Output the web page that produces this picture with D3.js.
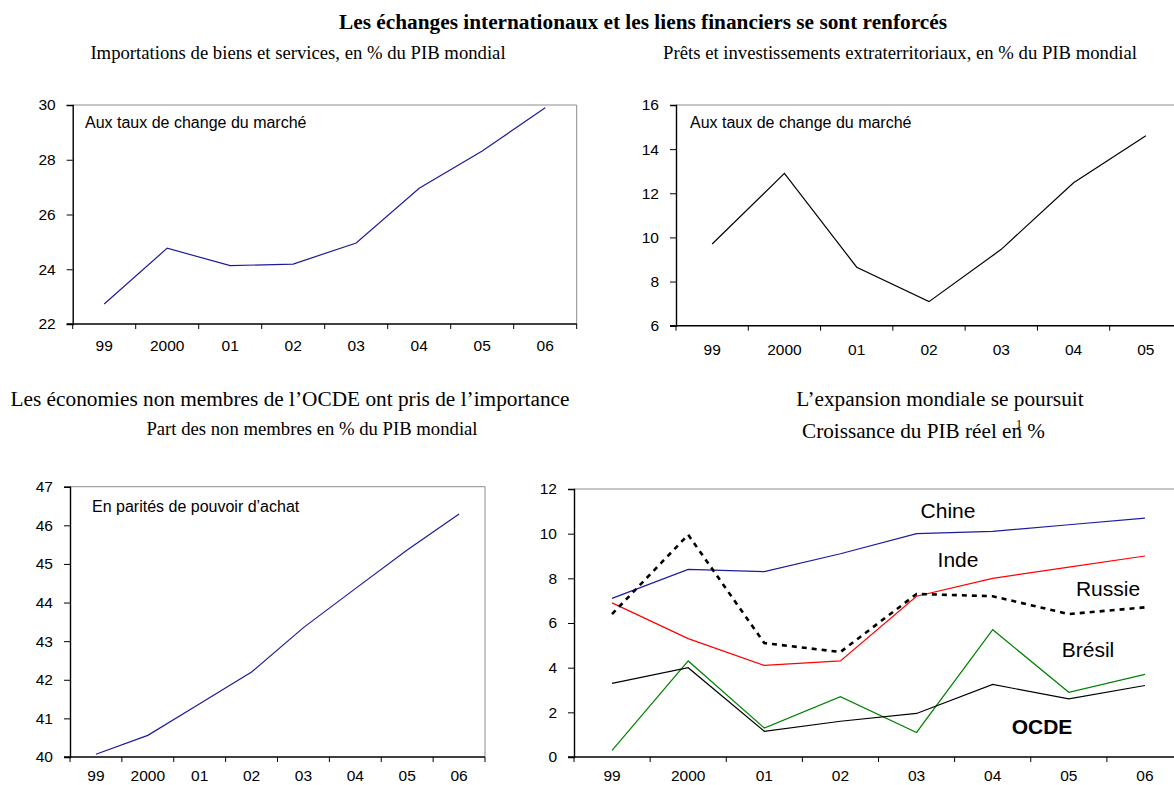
<!DOCTYPE html>
<html>
<head>
<meta charset="utf-8">
<script src="https://cdn.jsdelivr.net/npm/d3@7"></script>
<style>
  body { margin: 0; background: #fff; }
  .tick text { font-family: "Liberation Sans", Arial, sans-serif; fill: #000; }
  .serif { font-family: "Liberation Serif", "Times New Roman", serif; fill: #000; }
  .sans { font-family: "Liberation Sans", Arial, sans-serif; fill: #000; }
</style>
</head>
<body>
<script>
// data
const years = ["99", "2000", "01", "02", "03", "04", "05", "06"];
const years7 = ["99", "2000", "01", "02", "03", "04", "05"];
const imports = [22.73, 24.77, 24.13, 24.19, 24.96, 26.96, 28.32, 29.9];
const offshore = [9.70, 12.9, 8.65, 7.09, 9.46, 12.48, 14.61];
const nonOecdShare = [40.07, 40.56, 41.38, 42.2, 43.35, 44.36, 45.36, 46.29];
const chine = [7.1, 8.4, 8.3, 9.1, 10.0, 10.1, 10.4, 10.7];
const inde = [6.9, 5.3, 4.1, 4.3, 7.2, 8.0, 8.5, 9.0];
const russie = [6.4, 9.95, 5.1, 4.7, 7.3, 7.2, 6.4, 6.7];
const bresil = [0.3, 4.3, 1.3, 2.7, 1.1, 5.7, 2.9, 3.7];
const ocde = [3.3, 4.0, 1.15, 1.6, 1.95, 3.25, 2.6, 3.2];

const W = 1174, H = 785;
const svg = d3.select("body").append("svg")
    .attr("width", W).attr("height", H);

function panel(p) {
  const x = d3.scaleBand().domain(p.cats).range([p.left, p.right]).padding(0);
  const y = d3.scaleLinear().domain(p.yDomain).range([p.bottom, p.top]);
  const g = svg.append("g");

  // grey frame top + right
  g.append("path")
      .attr("d", `M${p.left},${p.top}H${p.right}V${p.bottom}`)
      .attr("fill", "none").attr("stroke", "#8c8c8c").attr("stroke-width", 1);

  // y axis
  const ya = g.append("g")
      .attr("transform", `translate(${p.left},0)`)
      .call(d3.axisLeft(y).tickValues(d3.range(p.yDomain[0], p.yDomain[1] + 0.001, p.yStep))
        .tickSize(6).tickPadding(11).tickFormat(d3.format("d")));
  ya.select(".domain").attr("stroke", "#000").attr("stroke-width", 1.4);
  ya.selectAll(".tick text").style("font-size", "15.5px");

  // x axis: labels at band centres, ticks at band edges
  const xa = g.append("g")
      .attr("transform", `translate(0,${p.bottom})`)
      .call(d3.axisBottom(x).tickSize(0).tickPadding(p.labelPad));
  xa.select(".domain").remove();
  xa.selectAll(".tick text").style("font-size", "15.5px");
  const edges = p.cats.map(c => x(c)).concat([p.right]);
  xa.selectAll("line.edge").data(edges).join("line")
      .attr("class", "edge")
      .attr("x1", d => d).attr("x2", d => d)
      .attr("y1", 0).attr("y2", 5)
      .attr("stroke", "#000");
  xa.append("line")
      .attr("x1", p.left - 6).attr("x2", p.right)
      .attr("stroke", "#000").attr("stroke-width", 1.4);

  const line = d3.line()
      .x((d, i) => x(p.cats[i]) + x.bandwidth() / 2)
      .y(d => y(d));

  p.series.forEach(s => {
    g.append("path")
        .datum(s.values)
        .attr("fill", "none")
        .attr("stroke", s.color)
        .attr("stroke-width", s.width || 1.2)
        .attr("stroke-dasharray", s.dash || null)
        .attr("d", line);
  });

  if (p.note) {
    g.append("text").attr("class", "sans")
        .attr("x", p.note.x).attr("y", p.note.y)
        .style("font-size", "16px")
        .text(p.note.text);
  }
  return { x, y, g };
}

// titles
function title(text, x, y, size, bold) {
  return svg.append("text").attr("class", "serif")
      .attr("x", x).attr("y", y)
      .attr("text-anchor", "middle")
      .style("font-size", size + "px")
      .style("font-weight", bold ? "bold" : "normal")
      .text(text);
}

title("Les échanges internationaux et les liens financiers se sont renforcés", 643, 29, 21.3, true);
title("Importations de biens et services, en % du PIB mondial", 298, 59, 18.7);
title("Prêts et investissements extraterritoriaux, en % du PIB mondial", 900, 59, 18.7);
title("Les économies non membres de l’OCDE ont pris de l’importance", 290, 406, 21.3);
title("Part des non membres en % du PIB mondial", 312, 435, 18.7);
title("L’expansion mondiale se poursuit", 940, 406, 21.3);
const sub = title("Croissance du PIB réel en", 0, 438, 21.2).attr("text-anchor", "start");
sub.append("tspan").attr("dx", -6).attr("dy", -10).style("font-size", "12px").text("1");
sub.append("tspan").attr("dy", 10).text(" %");
sub.attr("x", 802);

panel({
  cats: years, left: 72.7, right: 576.7, top: 105, bottom: 324,
  yDomain: [22, 30], yStep: 2, labelPad: 16,
  series: [{ values: imports, color: "#1c1c9a" }],
  note: { text: "Aux taux de change du marché", x: 85, y: 128 }
});

panel({
  cats: years7, left: 676, right: 1182, top: 105, bottom: 325.7,
  yDomain: [6, 16], yStep: 2, labelPad: 18,
  series: [{ values: offshore, color: "#000" }],
  note: { text: "Aux taux de change du marché", x: 690, y: 128 }
});

panel({
  cats: years, left: 70, right: 485, top: 486.7, bottom: 757,
  yDomain: [40, 47], yStep: 1, labelPad: 13,
  series: [{ values: nonOecdShare, color: "#1c1c9a" }],
  note: { text: "En parités de pouvoir d’achat", x: 92, y: 512 }
});

panel({
  cats: years, left: 574, right: 1183, top: 489, bottom: 757,
  yDomain: [0, 12], yStep: 2, labelPad: 13,
  series: [
    { values: chine, color: "#1c1c9a" },
    { values: inde, color: "#ff0000" },
    { values: bresil, color: "#008000" },
    { values: ocde, color: "#000" },
    { values: russie, color: "#000", width: 2.6, dash: "5,5" }
  ]
});

// series labels
const seriesLabels = [
  { text: "Chine", x: 948, y: 518, bold: false },
  { text: "Inde", x: 958, y: 567, bold: false },
  { text: "Russie", x: 1108, y: 596, bold: false },
  { text: "Brésil", x: 1088, y: 657, bold: false },
  { text: "OCDE", x: 1042, y: 734, bold: true }
];
svg.append("g").selectAll("text").data(seriesLabels).join("text")
    .attr("class", "sans")
    .attr("x", d => d.x).attr("y", d => d.y)
    .attr("text-anchor", "middle")
    .style("font-size", "21px")
    .style("font-weight", d => d.bold ? "bold" : "normal")
    .text(d => d.text);
</script>
</body>
</html>
